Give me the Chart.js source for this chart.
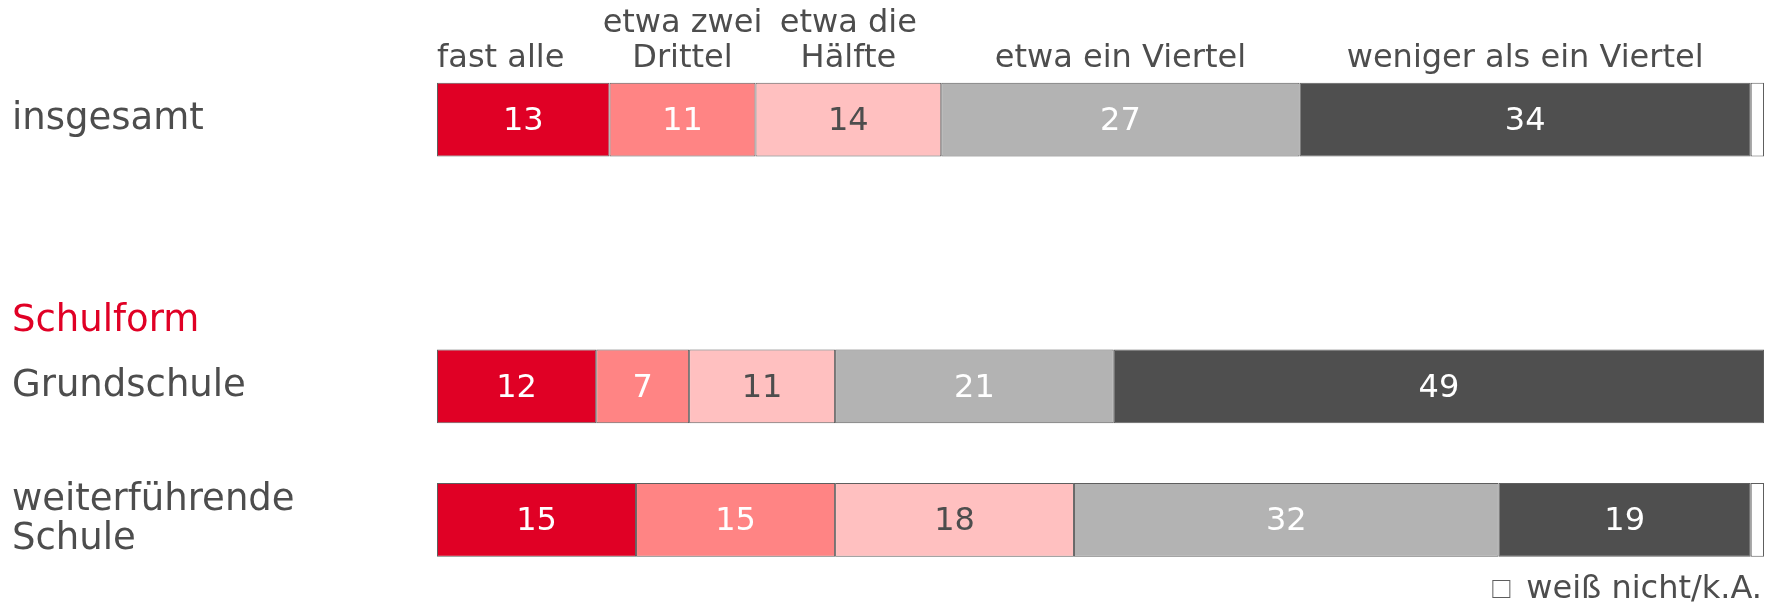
<!DOCTYPE html>
<html>
<head>
<meta charset="utf-8">
<script src="https://cdn.jsdelivr.net/npm/chart.js@4.4.1/dist/chart.umd.min.js"></script>
<style>
  html, body { margin: 0; padding: 0; background: #fff; }
</style>
</head>
<body>
<canvas id="schulChart" width="1774" height="609"></canvas>
<script>
// Zeilen (leere Zeile = Abstand vor "Schulform")
var zeilen = ["insgesamt", "", "Grundschule", ["weiterführende", "Schule"]];
var gruppe = "Schulform";

// Antwortkategorien
var antworten = [["fast alle"], ["etwa zwei", "Drittel"], ["etwa die", "Hälfte"], ["etwa ein Viertel"], ["weniger als ein Viertel"], ["weiß nicht/k.A."]];

// Werte in Prozent
var fastAlle       = [13, null, 12, 15];
var zweiDrittel    = [11, null, 7, 15];
var haelfte        = [14, null, 11, 18];
var einViertel     = [27, null, 21, 32];
var wenigerViertel = [34, null, 49, 19];
var weissNicht     = [1, null, 0, 1];

var farben = ['#e00025', '#ff8484', '#ffc0c0', '#b3b3b3', '#4f4f4f', '#ffffff'];
var textFarben = ['#ffffff', '#ffffff', '#4d4d4d', '#ffffff', '#ffffff', '#4d4d4d'];
var werte = [fastAlle, zweiDrittel, haelfte, einViertel, wenigerViertel, weissNicht];

var schrift = '"DejaVu Sans", Verdana, sans-serif';
var grau = '#4d4d4d';

var datasets = [];
werte.forEach(function(w, i){
    datasets.push({
        label: antworten[i].join(' '),
        data: w,
        backgroundColor: farben[i],
        borderColor: '#5e5e5e',
        borderWidth: 1,
        borderSkipped: false,
        textColor: textFarben[i]
    });
});

var textePlugin = {
    id: 'texte',
    afterDatasetsDraw: function(chart)
    {
        var ctx = chart.ctx;
        ctx.save();

        // Zahlen in den Balken
        ctx.font = '32px ' + schrift;
        ctx.textAlign = 'center';
        ctx.textBaseline = 'middle';
        chart.data.datasets.forEach(function(ds, i){
            var meta = chart.getDatasetMeta(i);
            meta.data.forEach(function(bar, j){
                var v = ds.data[j];
                if (v == null || v < 3) return;
                var p = bar.getCenterPoint();
                ctx.fillStyle = ds.textColor;
                ctx.fillText(v, p.x, p.y + 2);
            });
        });

        // Kategorien über dem ersten Balken
        ctx.fillStyle = grau;
        ctx.textBaseline = 'alphabetic';
        for (var i = 0; i < 5; i++) {
            var bar = chart.getDatasetMeta(i).data[0];
            var links = Math.min(bar.base, bar.x);
            var rechts = Math.max(bar.base, bar.x);
            var oben = bar.y - bar.height / 2;
            var zeilenTxt = antworten[i];
            var x = (links + rechts) / 2;
            ctx.textAlign = 'center';
            if (i === 0) { x = links; ctx.textAlign = 'left'; }
            for (var k = 0; k < zeilenTxt.length; k++) {
                var y = oben - 16 - (zeilenTxt.length - 1 - k) * 35;
                ctx.fillText(zeilenTxt[k], x, y);
            }
        }

        // Gruppenüberschrift
        var yScale = chart.scales.y;
        ctx.font = '37px ' + schrift;
        ctx.fillStyle = '#e00025';
        ctx.textAlign = 'left';
        ctx.fillText(gruppe, yScale.left, yScale.getPixelForValue(2) - 55);

        // Legende "weiß nicht/k.A."
        var area = chart.chartArea;
        ctx.font = '32px ' + schrift;
        ctx.fillStyle = grau;
        ctx.textAlign = 'right';
        var txt = antworten[5][0];
        var tx = area.right - 2;
        var ty = 598;
        ctx.fillText(txt, tx, ty);
        var w = ctx.measureText(txt).width;
        ctx.fillStyle = '#ffffff';
        ctx.strokeStyle = '#5e5e5e';
        ctx.lineWidth = 1;
        ctx.fillRect(tx - w - 34, ty - 18, 18, 18);
        ctx.strokeRect(tx - w - 33.5, ty - 17.5, 17, 17);

        ctx.restore();
    }
};

var schulChart = new Chart("schulChart", {
    type: 'bar',
    data: {
        labels: zeilen,
        datasets: datasets
    },
    options: {
        indexAxis: 'y',
        responsive: false,
        animation: false,
        devicePixelRatio: 1,
        layout: { padding: { left: 12, right: 10, top: 53, bottom: 18 } },
        datasets: {
            bar: { categoryPercentage: 1, barPercentage: 0.553 }
        },
        scales: {
            x: { stacked: true, min: 0, max: 100, display: false },
            y: {
                stacked: true,
                grid: { display: false },
                border: { display: false },
                afterFit: function(scale){ scale.width = 425; },
                ticks: {
                    crossAlign: 'far',
                    autoSkip: false,
                    color: grau,
                    font: { family: schrift, size: 37, lineHeight: 1.05 }
                }
            }
        },
        plugins: {
            legend: { display: false },
            tooltip: { enabled: false }
        }
    },
    plugins: [textePlugin]
});
</script>
</body>
</html>
